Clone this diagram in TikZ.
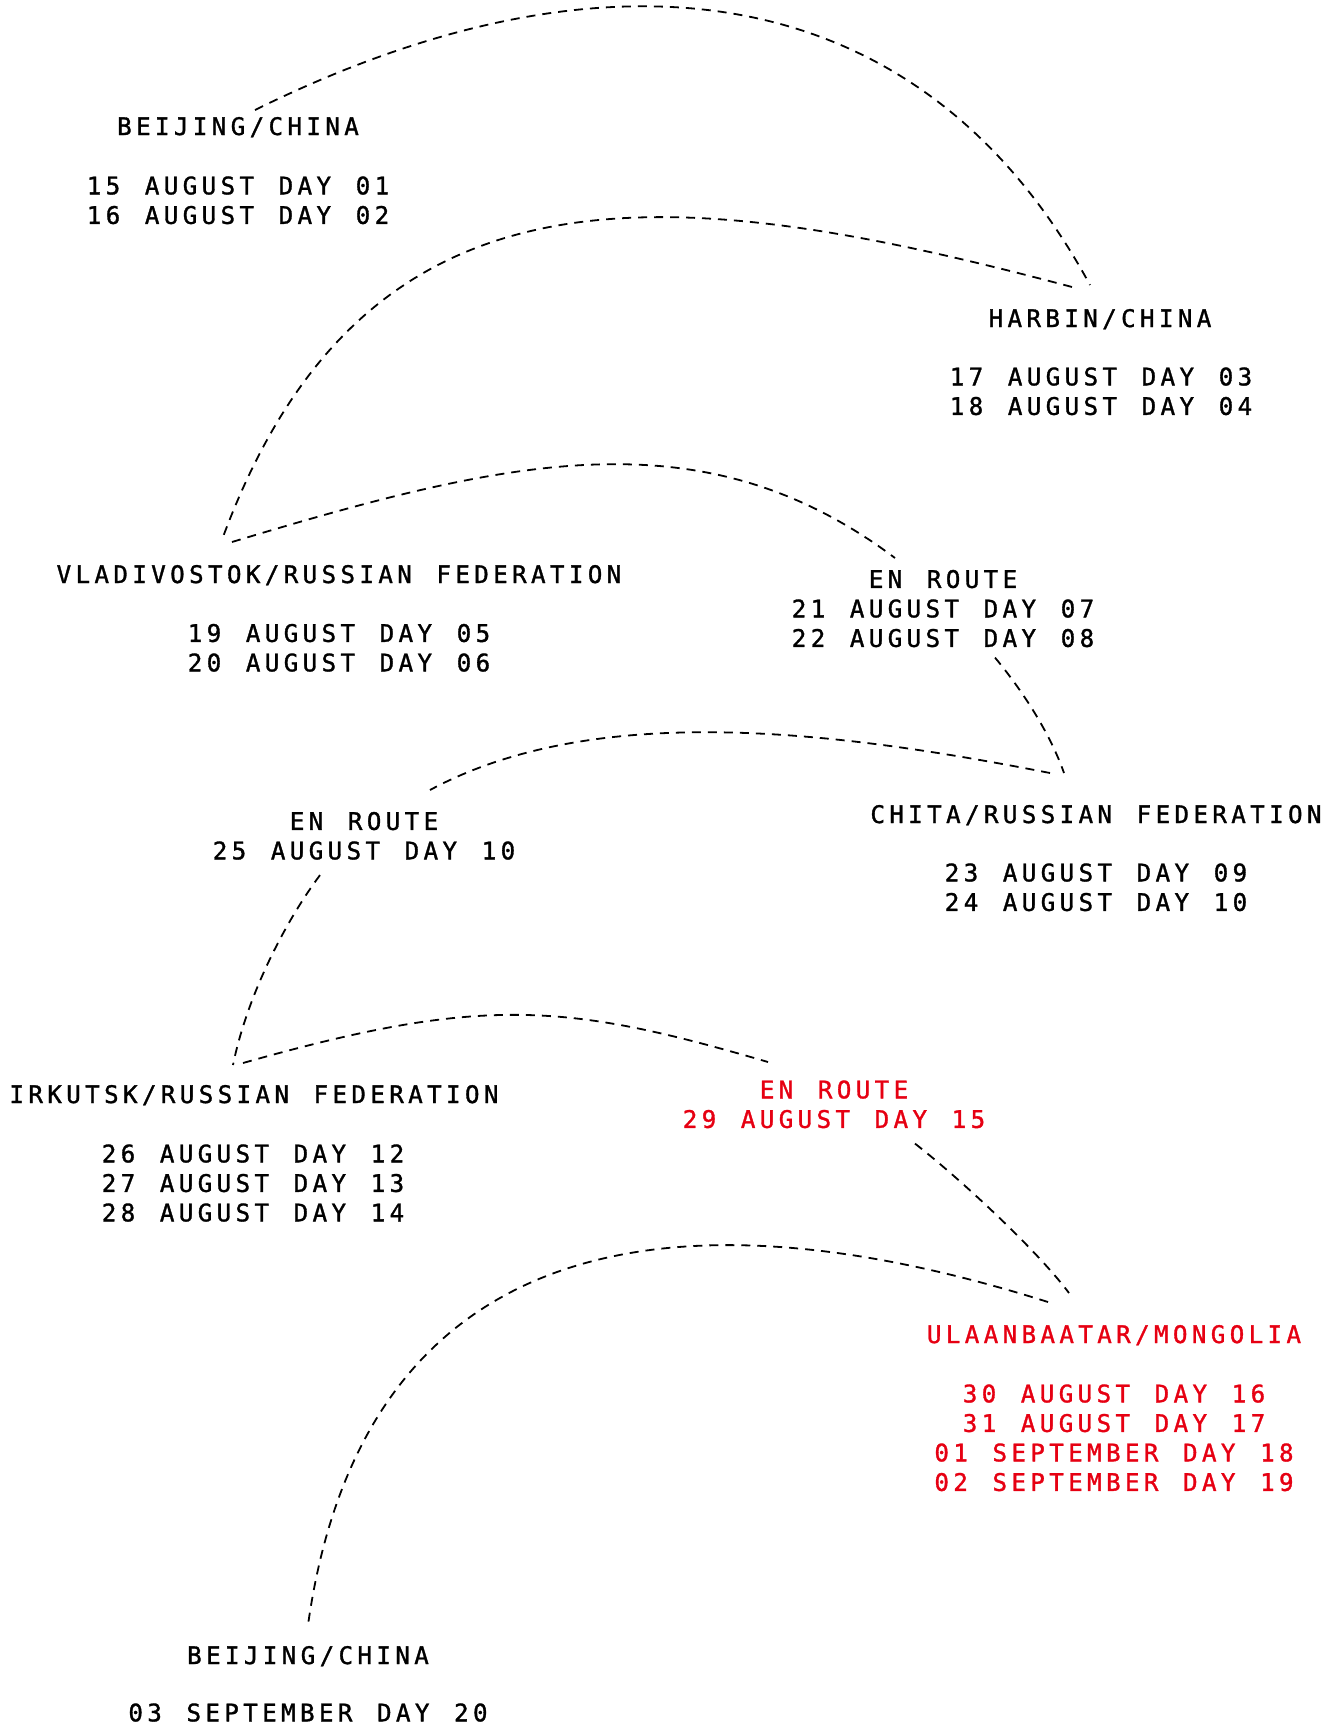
\documentclass[tikz,border=0pt]{standalone}
\usepackage{fontspec}
\newfontfamily\tripfont[LetterSpace=18,WordSpace=1.3,FakeBold=1.3]{DejaVu Sans Mono}
\usetikzlibrary{positioning}
\definecolor{routered}{RGB}{230,0,18}

\tikzset{
  stop/.style={inner sep=0pt, anchor=base, font=\tripfont\fontsize{12.1}{14.75}\selectfont},
  dates/.style={inner sep=0pt, anchor=north, align=center, font=\tripfont\fontsize{12.1}{14.75}\selectfont},
  route/.style={dash pattern=on 4.5pt off 3.5pt, line width=0.9pt},
}

\begin{document}
\begin{tikzpicture}[x=0.5pt,y=-0.5pt]
 \useasboundingbox (0,0) rectangle (1332,1725);
 % stops
 \node[stop] (bjA) at (238,135) {BEIJING/CHINA};
 \node[dates] (bjAdates) at (238,176) {15 AUGUST DAY 01\\16 AUGUST DAY 02};
 \node[stop] (harbin) at (1100,327) {HARBIN/CHINA};
 \node[dates] (harbinDates) at (1101,367) {17 AUGUST DAY 03\\18 AUGUST DAY 04};
 \node[stop] (vlad) at (339,583) {VLADIVOSTOK/RUSSIAN FEDERATION};
 \node[dates] (vladDates) at (339,623.5) {19 AUGUST DAY 05\\20 AUGUST DAY 06};
 \node[dates] (enrouteA) at (943,569.5) {EN ROUTE\\21 AUGUST DAY 07\\22 AUGUST DAY 08};
 \node[stop] (chita) at (1096,823) {CHITA/RUSSIAN FEDERATION};
 \node[dates] (chitaDates) at (1096,863) {23 AUGUST DAY 09\\24 AUGUST DAY 10};
 \node[dates] (enrouteB) at (364,811.5) {EN ROUTE\\25 AUGUST DAY 10};
 \node[stop] (irkutsk) at (254,1103) {IRKUTSK/RUSSIAN FEDERATION};
 \node[dates] (irkutskDates) at (253,1144) {26 AUGUST DAY 12\\27 AUGUST DAY 13\\28 AUGUST DAY 14};
 \node[dates,text=routered] (enrouteC) at (834,1080) {EN ROUTE\\29 AUGUST DAY 15};
 \node[stop,text=routered] (ulaan) at (1114,1343) {ULAANBAATAR/MONGOLIA};
 \node[dates,text=routered] (ulaanDates) at (1114,1384) {30 AUGUST DAY 16\\31 AUGUST DAY 17\\01 SEPTEMBER DAY 18\\02 SEPTEMBER DAY 19};
 \node[stop] (bjB) at (308,1664) {BEIJING/CHINA};
 \node[dates] (bjBdates) at (308,1703) {03 SEPTEMBER DAY 20};

 % route
 \draw[route] ([shift={(17,-25)}]bjA.base) .. controls (613,-67) and (923,-23) .. ([shift={(-10,-42)}]harbin.base);
 \draw[route] ([shift={(-28,-40)}]harbin.base) .. controls (666,179) and (366,152) .. ([shift={(-116,-46)}]vlad.base);
 \draw[route] ([shift={(-107,-41)}]vlad.base) .. controls (510,458) and (703,414) .. ([shift={(-48,-11.5)}]enrouteA.north);
 \draw[route] ([shift={(52,10)}]enrouteA.south) .. controls (1022,690) and (1050,733) .. ([shift={(-32,-50)}]chita.base);
 \draw[route] ([shift={(-46,-50)}]chita.base) .. controls (840,732) and (597,700) .. ([shift={(66,-21.5)}]enrouteB.north);
 \draw[route] ([shift={(-44,15)}]enrouteB.south) .. controls (285,922) and (247,996) .. ([shift={(-21,-38)}]irkutsk.base);
 \draw[route] ([shift={(-11,-40)}]irkutsk.base) .. controls (483,995) and (566,1003) .. ([shift={(-66,-18)}]enrouteC.north);
 \draw[route] ([shift={(81,15)}]enrouteC.south) .. controls (958,1177) and (1036,1249) .. ([shift={(-45,-50)}]ulaan.base);
 \draw[route] ([shift={(-66,-41)}]ulaan.base) .. controls (649,1176) and (361,1249) .. ([shift={(0,-39)}]bjB.base);
\end{tikzpicture}
\end{document}
